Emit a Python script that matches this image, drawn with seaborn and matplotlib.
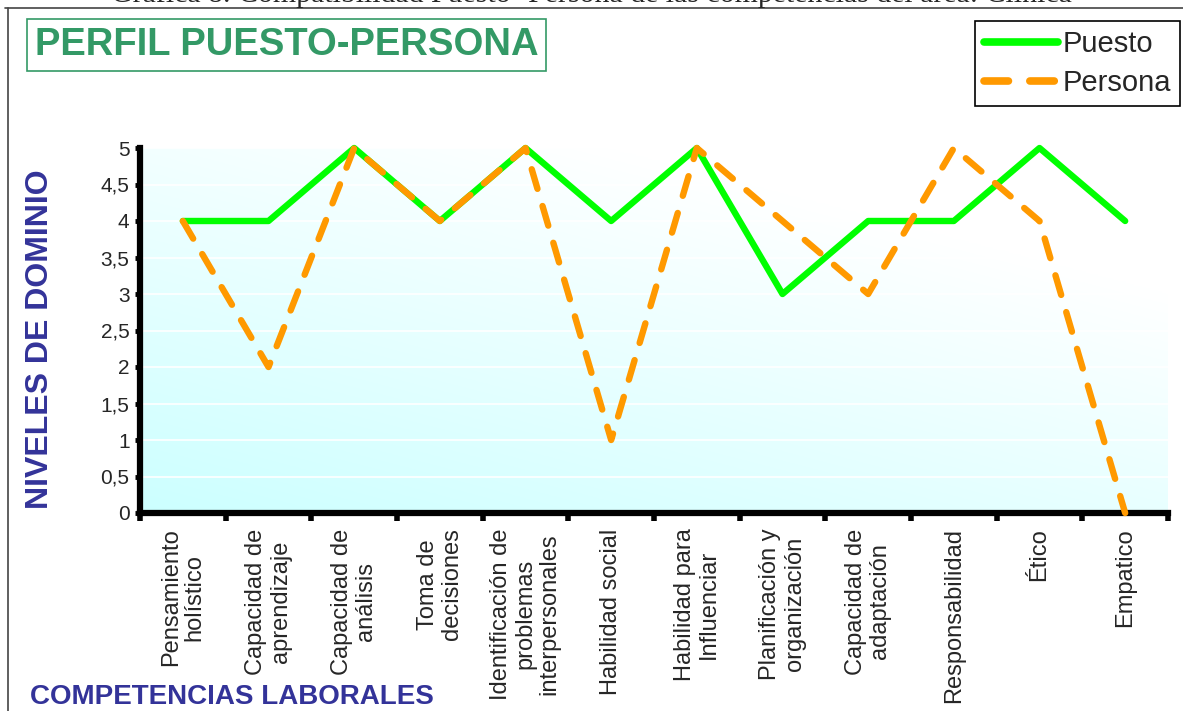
import numpy as np
import pandas as pd
import matplotlib
matplotlib.use('Agg')
import matplotlib.pyplot as plt
from matplotlib.lines import Line2D
import seaborn as sns

competencias = ['Pensamiento\nholístico', 'Capacidad de\naprendizaje', 'Capacidad de\nanálisis',
                'Toma de\ndecisiones', 'Identificación de\nproblemas\ninterpersonales',
                'Habilidad social', 'Habilidad para\nInfluenciar', 'Planificación y\norganización',
                'Capacidad de\nadaptación', 'Responsabilidad', 'Ético', 'Empatico']
puesto = [4, 4, 5, 4, 5, 4, 5, 3, 4, 4, 5, 4]
persona = [4, 2, 5, 4, 5, 1, 5, 4, 3, 5, 4, 0]
niveles = [0, 0.5, 1, 1.5, 2, 2.5, 3, 3.5, 4, 4.5, 5]
niveles_txt = ['0', '0,5', '1', '1,5', '2', '2,5', '3', '3,5', '4', '4,5', '5']

df = pd.DataFrame({'pos': np.arange(len(competencias)), 'Puesto': puesto, 'Persona': persona})

sns.set_theme(style='ticks', rc={'axes.facecolor': 'white', 'figure.facecolor': 'white'})
plt.rcParams['font.family'] = ['Liberation Sans', 'DejaVu Sans']

W, H = 1183, 711
fig = plt.figure(figsize=(W / 100, H / 100), dpi=100)
ax = fig.add_axes([140 / W, 1 - 513 / H, (1168 - 140) / W, (513 - 148) / H])

# fondo degradado cian -> blanco
gx, gy = np.meshgrid(np.linspace(0, 1, 256), np.linspace(0, 1, 256))
t = np.clip(0.55 * gx + 0.75 * gy, 0, 1)
c0 = np.array([0.80, 1.0, 1.0])
img = c0 + (1 - c0) * t[..., None]
ax.imshow(img, extent=[0, 1, 0, 1], transform=ax.transAxes, origin='lower', aspect='auto', zorder=0)

sns.lineplot(data=df, x='pos', y='Puesto', ax=ax, color='#00ff00', linewidth=4.6,
             label='Puesto', clip_on=False, zorder=3)
sns.lineplot(data=df, x='pos', y='Persona', ax=ax, color='#ff9900', linewidth=4.6,
             linestyle=(0, (3.2, 2.8)), dash_capstyle='round', label='Persona',
             clip_on=False, zorder=4)

ax.set_xlim(-0.5, len(competencias) - 0.5)
ax.set_ylim(0, 5)
ax.set_yticks(niveles)
ax.set_yticklabels(niveles_txt, fontsize=15)
ax.set_xticks(np.arange(len(competencias)))
ax.set_xticklabels(competencias, rotation=90, fontsize=17, ha='center', va='top',
                   multialignment='center', linespacing=1.12)
ax.set_xticks(np.arange(len(competencias) + 1) - 0.5, minor=True)
ax.tick_params(axis='x', which='major', length=0, pad=11)
ax.tick_params(axis='x', which='minor', length=5.5, width=4, color='black', direction='out')
ax.tick_params(axis='y', which='major', length=3.5, width=3.5, color='black', pad=4)
ax.set_xlabel('')
ax.set_ylabel('')
ax.yaxis.grid(True, color='white', linewidth=1.2)
for side in ['top', 'right']:
    ax.spines[side].set_visible(False)
for side in ['left', 'bottom']:
    ax.spines[side].set_linewidth(4.5)
    ax.spines[side].set_color('black')

leg = ax.legend(loc='upper right', bbox_to_anchor=(1180 / W, 1 - 21 / H), bbox_transform=fig.transFigure,
                fontsize=21, handlelength=2.55, handletextpad=0.15, borderaxespad=0, borderpad=0.3,
                labelspacing=0.4, fancybox=False, framealpha=1, edgecolor='black')
leg.get_frame().set_linewidth(1.2)
for h in leg.get_lines():
    h.set_linewidth(5.5)

fig.text(35 / W, 1 - 45 / H, 'PERFIL PUESTO-PERSONA', fontsize=27.5, fontweight='bold',
         color='#339966', ha='left', va='center',
         bbox=dict(boxstyle='square,pad=0.2', fc='white', ec='#339966', lw=1.2))
fig.text(40 / W, 1 - 339 / H, 'NIVELES DE DOMINIO', fontsize=23, fontweight='bold',
         color='#333399', rotation=90, ha='center', va='center')
fig.text(30 / W, 1 - 704 / H, 'COMPETENCIAS LABORALES', fontsize=20, fontweight='bold',
         color='#333399', ha='left', va='baseline')
fig.text(0.5, 1 - 2 / H, 'Gráfica 8. Compatibilidad Puesto- Persona de las competencias del área: Clínica',
         fontsize=21.5, family=['Liberation Serif', 'DejaVu Serif'], ha='center', va='baseline')

fig.add_artist(Line2D([8 / W, 8 / W], [0, 1 - 8 / H], transform=fig.transFigure, color='#444444', lw=1.2))
fig.add_artist(Line2D([5 / W, 1], [1 - 8 / H, 1 - 8 / H], transform=fig.transFigure, color='#444444', lw=1.2))

fig.savefig('out.png', dpi=100)
